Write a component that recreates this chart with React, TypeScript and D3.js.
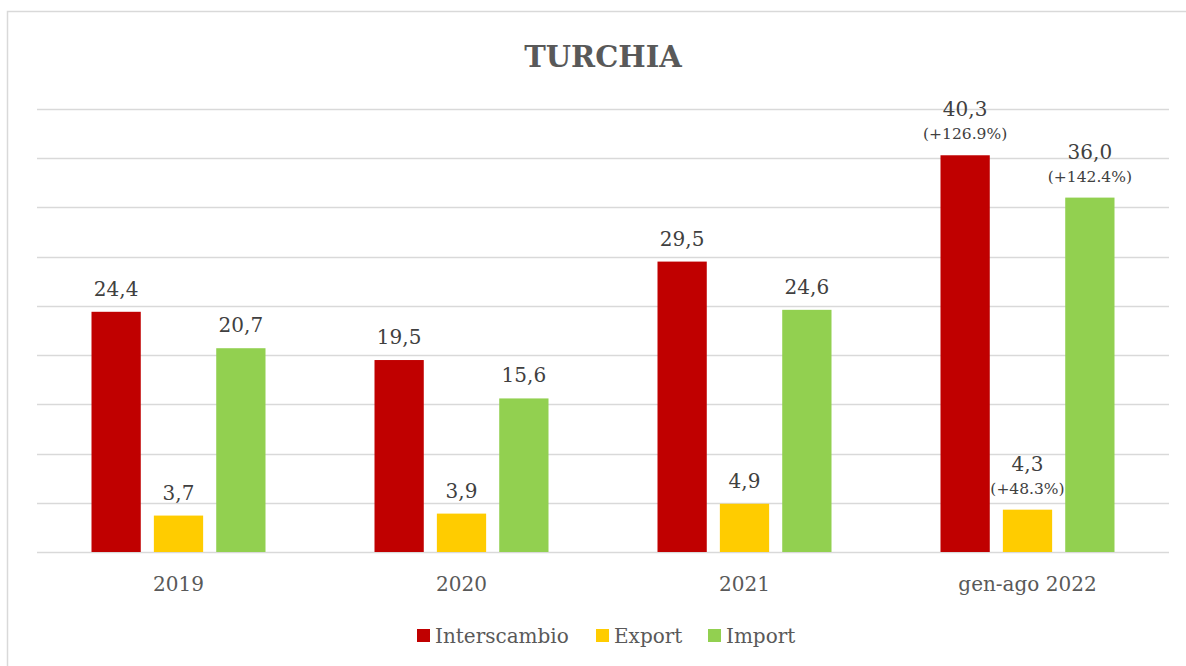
import React from "react";
import * as d3 from "d3";

const categories = ["2019", "2020", "2021", "gen-ago 2022"];
const seriesNames = ["Interscambio", "Export", "Import"];
const interscambio = [24.4, 19.5, 29.5, 40.3];
const exportVals = [3.7, 3.9, 4.9, 4.3];
const importVals = [20.7, 15.6, 24.6, 36.0];
// growth notes shown only on the last group
const growthNotes = [
  ["", "", "", "(+126.9%)"],
  ["", "", "", "(+48.3%)"],
  ["", "", "", "(+142.4%)"],
];
const yTicks = [0, 5, 10, 15, 20, 25, 30, 35, 40, 45];

const colors = ["#C00000", "#FFCC00", "#92D050"];
const font = "'DejaVu Serif', serif";

const W = 1186;
const H = 666;
const plot = { left: 37, right: 1169, top: 109, bottom: 552 };

const fmt = (v: number) => v.toFixed(1).replace(".", ",");

export default function App() {
  const series = [interscambio, exportVals, importVals];

  const x0 = d3.scaleBand<string>().domain(categories).range([plot.left, plot.right]).padding(0);
  const groupW = 174;
  const pad = (x0.bandwidth() - groupW) / 2;
  const x1 = d3
    .scaleBand<string>()
    .domain(seriesNames)
    .range([pad, pad + groupW])
    .paddingInner(0.21)
    .paddingOuter(0);
  const y = d3.scaleLinear().domain([0, 45]).range([plot.bottom, plot.top]);

  // legend layout
  const legendItems = [
    { name: "Interscambio", x: 417 },
    { name: "Export", x: 596 },
    { name: "Import", x: 708 },
  ];

  return (
    <svg
      width={W}
      height={H}
      style={{ position: "absolute", left: 0, top: 0, background: "#fff" }}
    >
      <rect x={7.5} y={11.5} width={1200} height={700} fill="#fff" stroke="#D9D9D9" strokeWidth={1.5} />

      <text
        x={(plot.left + plot.right) / 2}
        y={67}
        textAnchor="middle"
        fontFamily={font}
        fontWeight="bold"
        fontSize={29}
        fill="#595959"
      >
        TURCHIA
      </text>

      {yTicks.map((t) => (
        <line
          key={t}
          x1={plot.left}
          x2={plot.right}
          y1={Math.round(y(t)) + 0.5}
          y2={Math.round(y(t)) + 0.5}
          stroke="#D9D9D9"
          strokeWidth={1.5}
        />
      ))}

      {categories.map((c, ci) => (
        <g key={c} transform={`translate(${x0(c)},0)`}>
          {series.map((vals, si) => {
            const v = vals[ci];
            const bx = x1(seriesNames[si]) as number;
            const bw = x1.bandwidth();
            const note = growthNotes[si][ci];
            const top = y(v);
            return (
              <g key={si}>
                <rect x={bx} y={top} width={bw} height={y(0) - top} fill={colors[si]} />
                <text
                  x={bx + bw / 2}
                  y={note ? top - 39 : top - 16}
                  textAnchor="middle"
                  fontFamily={font}
                  fontSize={20}
                  fill="#404040"
                >
                  {fmt(v)}
                </text>
                {note && (
                  <text
                    x={bx + bw / 2}
                    y={top - 16}
                    textAnchor="middle"
                    fontFamily={font}
                    fontSize={15.5}
                    fill="#404040"
                  >
                    {note}
                  </text>
                )}
              </g>
            );
          })}
          <text
            x={x0.bandwidth() / 2}
            y={591}
            textAnchor="middle"
            fontFamily={font}
            fontSize={20}
            fill="#595959"
          >
            {c}
          </text>
        </g>
      ))}

      {legendItems.map((it, i) => (
        <g key={it.name}>
          <rect x={it.x} y={629} width={13} height={13} fill={colors[i]} />
          <text x={it.x + 18} y={643} fontFamily={font} fontSize={20} fill="#595959">
            {it.name}
          </text>
        </g>
      ))}
    </svg>
  );
}
